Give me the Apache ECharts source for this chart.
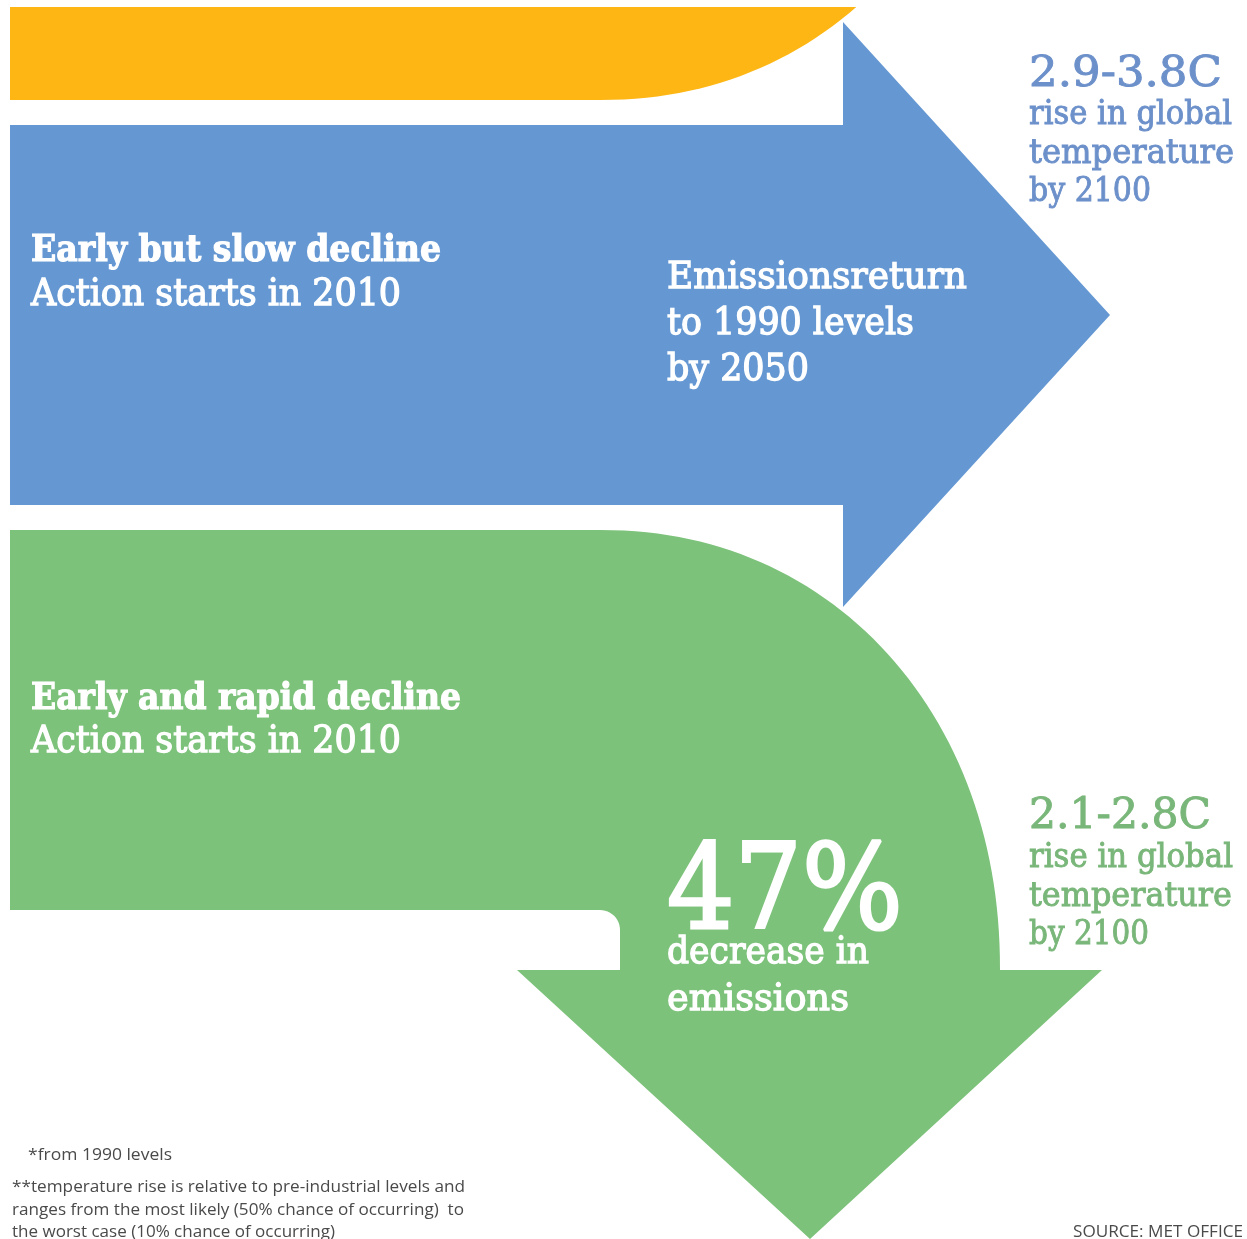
<!DOCTYPE html>
<html><head><meta charset="utf-8">
<script src="https://cdn.jsdelivr.net/npm/echarts@6/dist/echarts.min.js"></script>
<style>html,body{margin:0;padding:0;background:#fff}#c{width:1247px;height:1239px}</style>
</head><body><div id="c"></div>
<script>
// ---------------- data ----------------
const scenarioNames = ['Early but slow decline', 'Early and rapid decline'];
const actionYears = [2010, 2010];
const blueOutcome = ['Emissionsreturn', 'to 1990 levels', 'by 2050'];
const emissionsDecrease = 47;
const greenOutcome = ['decrease in', 'emissions'];
const tempRanges = ['2.9-3.8C', '2.1-2.8C'];
const tempCaption = ['rise in global', 'temperature', 'by 2100'];
const footnotes = [
  '*from 1990 levels',
  '**temperature rise is relative to pre-industrial levels and',
  'ranges from the most likely (50% chance of occurring)  to',
  'the worst case (10% chance of occurring)'
];
const sourceNote = 'SOURCE: MET OFFICE';

// ---------------- layout & style ----------------
const W = 1247, H = 1239;
const COL = {
  orange: '#fdb614', blue: '#6598d3', green: '#7cc27a',
  blueText: '#6c90ca', greenText: '#79b679', note: '#4a4a4a', white: '#ffffff'
};
const SERIF = "'DejaVu Serif', 'Liberation Serif', serif";
const SANS = "'Open Sans', 'DejaVu Sans', sans-serif";
const SE_N = 2.1; // curve exponent of the bends

function bend(cx, cy, rx, ry, dirY, yLimit) {
  const pts = [];
  const steps = 60;
  for (let i = 0; i <= steps; i++) {
    const t = Math.PI / 2 * (1 - i / steps);
    const dx = rx * Math.pow(Math.cos(t), 2 / SE_N);
    const dy = ry * Math.pow(Math.sin(t), 2 / SE_N);
    const p = [cx + dx, cy + dirY * dy];
    if (yLimit != null && p[1] < yLimit) {
      const prev = pts[pts.length - 1];
      const f = (yLimit - prev[1]) / (p[1] - prev[1]);
      pts.push([prev[0] + f * (p[0] - prev[0]), yLimit]);
      break;
    }
    pts.push(p);
  }
  return pts;
}
function arc(cx, cy, r, a0, a1) {
  const pts = [];
  for (let i = 0; i <= 12; i++) {
    const a = a0 + (a1 - a0) * i / 12;
    pts.push([cx + r * Math.cos(a), cy + r * Math.sin(a)]);
  }
  return pts;
}
const shapeDefs = [
  { color: COL.orange, pts: [[10, 7], [10, 100]].concat(bend(600, -340, 400, 440, 1, 7)) },
  { color: COL.blue, pts: [[10, 125], [843, 125], [843, 22], [1110, 315], [843, 607], [843, 505], [10, 505]] },
  { color: COL.green, pts: [[10, 530]].concat(
      bend(600, 970, 400, 440, -1, null),
      [[1102, 970], [810, 1239], [517, 970], [620, 970], [620, 930]],
      arc(600, 930, 20, 0, -Math.PI / 2),
      [[10, 910]]) }
];

// text layout: string, x, baseline, size, weight, colour, family, target width, extra stroke, align
const texts = [];
function T(s, x, b, size, weight, color, family, fit, bold, align) {
  texts.push({ s, x, b, size, weight, color, family, fit, bold: bold || 0, align: align || 'left' });
}
T(scenarioNames[0], 31, 261, 37, 'bold', COL.white, SERIF, 410, 1.2);
T('Action starts in ' + actionYears[0], 31, 305, 37, 'normal', COL.white, SERIF, 370, 1.3);
blueOutcome.forEach((s, i) => T(s, 667, [288, 334, 380][i], 37, 'normal', COL.white, SERIF, [300, 247, 142][i], 1.3));
T(tempRanges[0], 1029, 86, 42, 'normal', COL.blueText, SERIF, 193, 0.9);
tempCaption.forEach((s, i) => T(s, 1029, [124, 163, 201][i], 33, 'normal', COL.blueText, SERIF, [203, 205, 122][i], 0.9));

T(scenarioNames[1], 31, 709, 37, 'bold', COL.white, SERIF, 430, 1.2);
T('Action starts in ' + actionYears[1], 31, 752, 37, 'normal', COL.white, SERIF, 370, 1.3);
T(emissionsDecrease + '%', 667, 928, 118, 'normal', COL.white, SERIF, 236, 3);
greenOutcome.forEach((s, i) => T(s, 667, [963, 1010][i], 37, 'normal', COL.white, SERIF, [202, 182][i], 1.3));
T(tempRanges[1], 1029, 828, 42, 'normal', COL.greenText, SERIF, 182, 0.9);
tempCaption.forEach((s, i) => T(s, 1029, [867, 906, 944][i], 33, 'normal', COL.greenText, SERIF, [204, 203, 120][i], 0.9));

footnotes.forEach((s, i) => T(s, i === 0 ? 28 : 12, [1160, 1192, 1215, 1237][i], 17, 'normal', COL.note, SANS, [144, 453, 452, 323][i], 0));
T(sourceNote, 1243, 1237, 17, 'normal', COL.note, SANS, 170, 0, 'right');

// measure for horizontal fit and baseline placement
const mctx = document.createElement('canvas').getContext('2d');
texts.forEach(t => {
  mctx.font = t.weight + ' ' + t.size + 'px ' + t.family;
  mctx.textBaseline = 'middle';
  const w = mctx.measureText(t.s).width;
  t.sx = t.fit / w;
  const mh = mctx.measureText('H');
  t.mid = mh.actualBoundingBoxDescent; // baseline offset below the middle line
});

// ---------------- chart ----------------
const chart = echarts.init(document.getElementById('c'), null, { renderer: 'canvas' });
chart.setOption({
  animation: false,
  backgroundColor: '#ffffff',
  grid: { left: 0, right: 0, top: 0, bottom: 0 },
  xAxis: { type: 'value', min: 0, max: W, show: false },
  yAxis: { type: 'value', min: 0, max: H, inverse: true, show: false },
  series: [
    {
      type: 'custom', clip: false, z: 1,
      data: shapeDefs.map((d, i) => i),
      renderItem: (params, api) => {
        const d = shapeDefs[params.dataIndex];
        return { type: 'polygon', shape: { points: d.pts.map(p => api.coord(p)) }, style: { fill: d.color } };
      }
    },
    {
      type: 'custom', clip: false, z: 3,
      data: texts.map((t, i) => i),
      renderItem: (params, api) => {
        const t = texts[params.dataIndex];
        const p = api.coord([t.x, t.b]);
        const style = {
          text: t.s, fill: t.color, fontSize: t.size, fontFamily: t.family, fontWeight: t.weight,
          align: t.align, textAlign: t.align, verticalAlign: 'middle', textVerticalAlign: 'middle'
        };
        if (t.bold > 0) { style.stroke = t.color; style.lineWidth = t.bold; }
        return { type: 'text', x: p[0], y: p[1] - t.mid, scaleX: t.sx, style };
      }
    }
  ]
});
</script></body></html>
